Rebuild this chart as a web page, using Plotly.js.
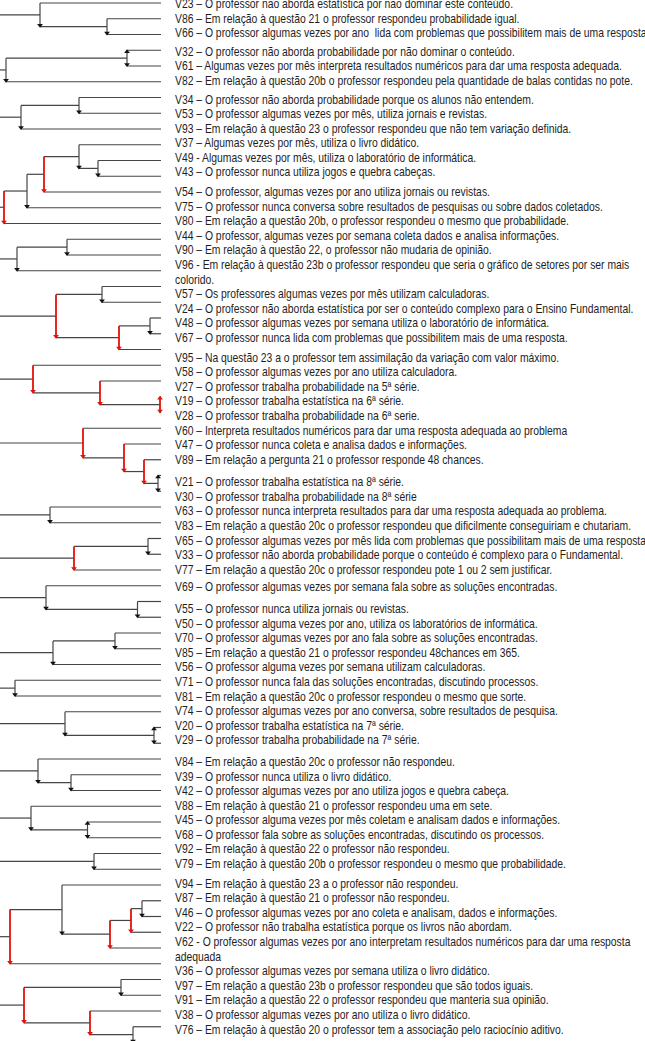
<!DOCTYPE html>
<html><head><meta charset="utf-8">
<script src="https://cdn.plot.ly/plotly-3.0.1.min.js"></script>
<style>html,body{margin:0;padding:0;background:#fff;overflow:hidden}</style>
</head><body><div id="chart" style="width:645px;height:1041px"></div>
<script>
// ---------- DATA ----------
const leafNames = ["V23","V86","V66","V32","V61","V82","V34","V53","V93","V37","V49","V43","V54","V75","V80","V44","V90","V96","V57","V24","V48","V67","V95","V58","V27","V19","V28","V60","V47","V89","V21","V30","V63","V83","V65","V33","V77","V69","V55","V50","V70","V85","V56","V71","V81","V74","V20","V29","V84","V39","V42","V88","V45","V68","V92","V79","V94","V87","V46","V22","V62","V36","V97","V91","V38","V76","V31"];

const leafLabels = [
"V23 – O professor não aborda estatística por não dominar este conteúdo.",
"V86 – Em relação à questão 21 o professor respondeu probabilidade igual.",
"V66 – O professor algumas vezes por ano  lida com problemas que possibilitem mais de uma resposta",
"V32 – O professor não aborda probabilidade por não dominar o conteúdo.",
"V61 – Algumas vezes por mês interpreta resultados numéricos para dar uma resposta adequada.",
"V82 – Em relação à questão 20b o professor respondeu pela quantidade de balas contidas no pote.",
"V34 – O professor não aborda probabilidade porque os alunos não entendem.",
"V53 – O professor algumas vezes por mês, utiliza jornais e revistas.",
"V93 – Em relação à questão 23 o professor respondeu que não tem variação definida.",
"V37 – Algumas vezes por mês, utiliza o livro didático.",
"V49 - Algumas vezes por mês, utiliza o laboratório de informática.",
"V43 – O professor nunca utiliza jogos e quebra cabeças.",
"V54 – O professor, algumas vezes por ano utiliza jornais ou revistas.",
"V75 – O professor nunca conversa sobre resultados de pesquisas ou sobre dados coletados.",
"V80 – Em relação a questão 20b, o professor respondeu o mesmo que probabilidade.",
"V44 – O professor, algumas vezes por semana coleta dados e analisa informações.",
"V90 – Em relação à questão 22, o professor não mudaria de opinião.",
"V96 - Em relação à questão 23b o professor respondeu que seria o gráfico de setores por ser mais\ncolorido.",
"V57 – Os professores algumas vezes por mês utilizam calculadoras.",
"V24 – O professor não aborda estatística por ser o conteúdo complexo para o Ensino Fundamental.",
"V48 – O professor algumas vezes por semana utiliza o laboratório de informática.",
"V67 – O professor nunca lida com problemas que possibilitem mais de uma resposta.",
"V95 – Na questão 23 a o professor tem assimilação da variação com valor máximo.",
"V58 – O professor algumas vezes por ano utiliza calculadora.",
"V27 – O professor trabalha probabilidade na 5ª série.",
"V19 – O professor trabalha estatística na 6ª série.",
"V28 – O professor trabalha probabilidade na 6ª serie.",
"V60 – Interpreta resultados numéricos para dar uma resposta adequada ao problema",
"V47 – O professor nunca coleta e analisa dados e informações.",
"V89 – Em relação a pergunta 21 o professor responde 48 chances.",
"V21 – O professor trabalha estatística na 8ª série.",
"V30 – O professor trabalha probabilidade na 8ª série",
"V63 – O professor nunca interpreta resultados para dar uma resposta adequada ao problema.",
"V83 – Em relação a questão 20c o professor respondeu que dificilmente conseguiriam e chutariam.",
"V65 – O professor algumas vezes por mês lida com problemas que possibilitam mais de uma resposta",
"V33 – O professor não aborda probabilidade porque o conteúdo é complexo para o Fundamental.",
"V77 – Em relação a questão 20c o professor respondeu pote 1 ou 2 sem justificar.",
"V69 – O professor algumas vezes por semana fala sobre as soluções encontradas.",
"V55 – O professor nunca utiliza jornais ou revistas.",
"V50 – O professor alguma vezes por ano, utiliza os laboratórios de informática.",
"V70 – O professor algumas vezes por ano fala sobre as soluções encontradas.",
"V85 – Em relação a questão 21 o professor respondeu 48chances em 365.",
"V56 – O professor alguma vezes por semana utilizam calculadoras.",
"V71 – O professor nunca fala das soluções encontradas, discutindo processos.",
"V81 – Em relação a questão 20c o professor respondeu o mesmo que sorte.",
"V74 – O professor algumas vezes por ano conversa, sobre resultados de pesquisa.",
"V20 – O professor trabalha estatística na 7ª série.",
"V29 – O professor trabalha probabilidade na 7ª série.",
"V84 – Em relação a questão 20c o professor não respondeu.",
"V39 – O professor nunca utiliza o livro didático.",
"V42 – O professor algumas vezes por ano utiliza jogos e quebra cabeça.",
"V88 – Em relação à questão 21 o professor respondeu uma em sete.",
"V45 – O professor alguma vezes por mês coletam e analisam dados e informações.",
"V68 – O professor fala sobre as soluções encontradas, discutindo os processos.",
"V92 – Em relação à questão 22 o professor não respondeu.",
"V79 – Em relação à questão 20b o professor respondeu o mesmo que probabilidade.",
"V94 – Em relação à questão 23 a o professor não respondeu.",
"V87 – Em relação à questão 21 o professor não respondeu.",
"V46 – O professor algumas vezes por ano coleta e analisam, dados e informações.",
"V22 – O professor não trabalha estatística porque os livros não abordam.",
"V62 - O professor algumas vezes por ano interpretam resultados numéricos para dar uma resposta\nadequada",
"V36 – O professor algumas vezes por semana utiliza o livro didático.",
"V97 – Em relação a questão 23b o professor respondeu que são todos iguais.",
"V91 – Em relação a questão 22 o professor respondeu que manteria sua opinião.",
"V38 – O professor algumas vezes por ano utiliza o livro didático.",
"V76 – Em relação à questão 20 o professor tem a associação pelo raciocínio aditivo.",
"V31 – O professor não utiliza probabilidade porque os alunos não entendem."
];

// Hierarchy: merge k joins mergeA[k] and mergeB[k] (leaf index, or 100+k for an earlier merge)
const mergeA =     [1,  0,  3,  102, 6,  104, 10, 9,  107, 108, 109, 15, 111, 18,  20,  114, 113, 25,  24,  23,  30,  29,  28,  27,  32, 34,  125, 38,    37, 40,  129, 43, 46,  45, 49, 48, 52,   51, 54, 57,  139, 140, 56,  142, 62,  65,  64,  144];
const mergeB =     [2,  100,4,  5,   7,  8,   11, 106,12,  13,  14,  16, 17,  19,  21,  22,  115, 26,  117, 118, 31,  120, 121, 122, 33, 35,  36,  39,    127,41,  42,  44, 47,  132,50, 134,53,   136,55, 58,  59,  60,  141, 61,  63,  66,  145, 146];
const mergeLevel = [107,40, 127,6,   79, 21,  98, 79, 44,  27,  4,   67, 17,  102, 150, 119, 56,  160, 100, 33,  158, 144, 124, 83,  50, 148, 74,  137.5, 46, 115, 53,  15, 154, 65, 71, 38, 87.5, 31, 94, 142, 131, 110, 62,  10,  121, 133, 90,  24];
const mergeRed =   [0,  0,  0,  0,   0,  0,   0,  0,  1,   0,   1,   0,  0,   0,   0,   1,   1,   1,   1,   1,   0,   1,   1,   1,   0,  0,   1,   0,     0,  0,   0,   0,  0,   0,  0,  0,  0,    0,  0,  0,   1,   1,   0,   1,   0,   0,   1,   1];
const mergeDouble= [0,  0,  1,  0,   0,  0,   0,  0,  0,   0,   0,   0,  0,   0,   0,   0,   0,   1,   0,   0,   1,   0,   0,   0,   0,  0,   0,   0,     0,  0,   0,   0,  1,   0,  0,  0,  1,    0,  0,  0,   0,   0,   0,   0,   0,   0,   0,   0];

// extra spacing (in px) before some text lines
const textGapBefore = {V32:4, V34:4, V54:5, V95:5, V21:8, V69:3, V55:7, V84:7, V94:5};

// ---------- LAYOUT ----------
const W = 645, H = 1041;
const leafTop = 3, leafStep = 15.75, leafEnd = 161, textX = 173;
const textTop = 4, lineH = 14.59;
const GRAY = '#454545', RED = '#e3120b';
const NARROW = 0.83; // Arial Narrow look: Arial compressed horizontally

const pos = {};
leafNames.forEach((n, i) => { pos[i] = {x: leafEnd, y: leafTop + i * leafStep, leaf: true}; });
const used = new Set();
const grayX = [], grayY = [], redX = [], redY = [];
const arrDownG = {x: [], y: []}, arrDownR = {x: [], y: []}, arrUpG = {x: [], y: []}, arrUpR = {x: [], y: []};
function seg(arrX, arrY, x0, y0, x1, y1) { arrX.push(x0, x1, null); arrY.push(y0, y1, null); }

mergeA.forEach((a, k) => {
  const b = mergeB[k], lvl = mergeLevel[k];
  used.add(a); used.add(b);
  const A = pos[a], B = pos[b];
  seg(grayX, grayY, lvl, A.y, A.leaf ? leafEnd : A.x, A.y);
  seg(grayX, grayY, lvl, B.y, B.leaf ? leafEnd : B.x, B.y);
  const red = mergeRed[k] === 1;
  if (red) seg(redX, redY, lvl, A.y, lvl, B.y); else seg(grayX, grayY, lvl, A.y, lvl, B.y);
  const dn = red ? arrDownR : arrDownG, up = red ? arrUpR : arrUpG;
  dn.x.push(lvl); dn.y.push(B.y - 1.5);
  if (mergeDouble[k] === 1) { up.x.push(lvl); up.y.push(A.y + 1.5); }
  pos[100 + k] = {x: lvl, y: (A.y + B.y) / 2, leaf: false};
});
mergeA.forEach((a, k) => {
  if (!used.has(100 + k)) { const P = pos[100 + k]; seg(grayX, grayY, 0, P.y, P.x, P.y); }
});

const annotations = [];
let ty = textTop, first = true;
leafLabels.forEach((lab, i) => {
  const parts = lab.split('\n');
  parts.forEach((p, j) => {
    if (!first) ty += lineH;
    if (j === 0 && textGapBefore[leafNames[i]]) ty += textGapBefore[leafNames[i]];
    first = false;
    annotations.push({x: textX, y: ty, xref: 'x', yref: 'y', text: p, showarrow: false,
      xanchor: 'left', yanchor: 'middle', align: 'left',
      font: {family: '"Liberation Sans", Arial, sans-serif', size: 12.5, color: '#1e1e1e'}});
  });
});

const traces = [
  {x: grayX, y: grayY, mode: 'lines', line: {color: GRAY, width: 1.2}, hoverinfo: 'skip'},
  {x: redX, y: redY, mode: 'lines', line: {color: RED, width: 1.8}, hoverinfo: 'skip'},
  {x: arrDownG.x, y: arrDownG.y, mode: 'markers', marker: {symbol: 'triangle-down', size: 5, color: '#111'}, hoverinfo: 'skip'},
  {x: arrUpG.x, y: arrUpG.y, mode: 'markers', marker: {symbol: 'triangle-up', size: 5, color: '#111'}, hoverinfo: 'skip'},
  {x: arrDownR.x, y: arrDownR.y, mode: 'markers', marker: {symbol: 'triangle-down', size: 5, color: RED}, hoverinfo: 'skip'},
  {x: arrUpR.x, y: arrUpR.y, mode: 'markers', marker: {symbol: 'triangle-up', size: 5, color: RED}, hoverinfo: 'skip'}
];

const layout = {
  width: W, height: H, margin: {l: 0, r: 0, t: 0, b: 0}, showlegend: false,
  paper_bgcolor: '#fff', plot_bgcolor: '#fff',
  xaxis: {range: [0, W], visible: false, fixedrange: true},
  yaxis: {range: [H, 0], visible: false, fixedrange: true},
  annotations: annotations
};
Plotly.newPlot('chart', traces, layout, {staticPlot: true, displayModeBar: false}).then(() => {
  document.querySelectorAll('#chart .annotation-text').forEach(t => {
    const x = parseFloat(t.getAttribute('x')) || 0;
    t.setAttribute('transform', 'translate(' + x + ' 0) scale(' + NARROW + ' 1) translate(' + (-x) + ' 0)');
  });
});
</script></body></html>
